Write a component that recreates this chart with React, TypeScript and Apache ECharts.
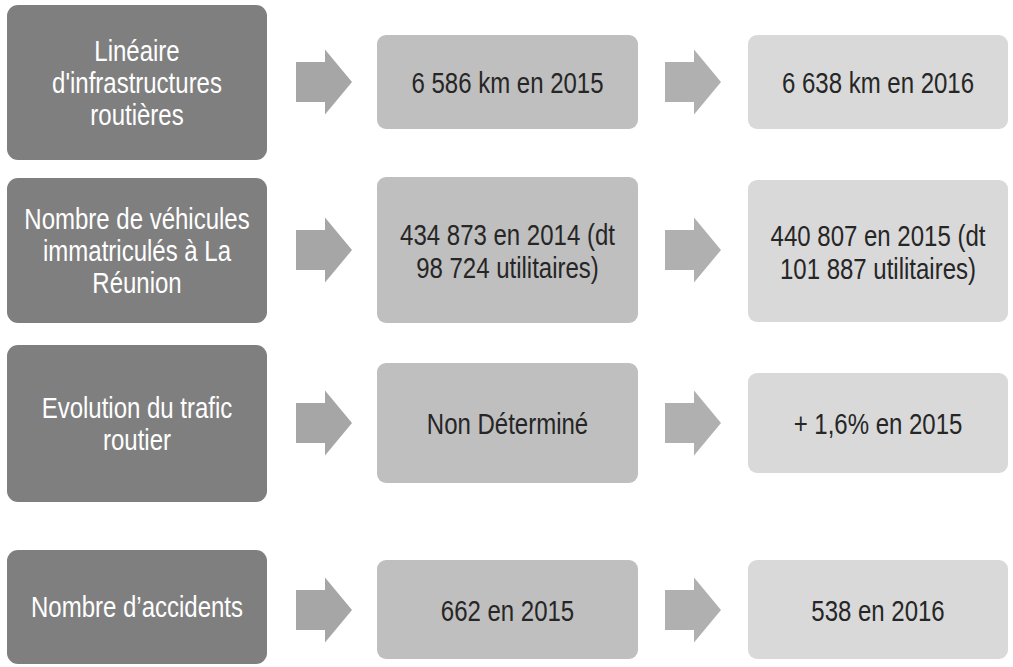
import React, { useEffect, useRef } from "react";
import * as echarts from "echarts";

// Data
const indicators: string[] = [
  "Linéaire\nd'infrastructures\nroutières",
  "Nombre de véhicules\nimmatriculés à La\nRéunion",
  "Evolution du trafic\nroutier",
  "Nombre d’accidents",
];
const previousValues: string[] = [
  "6 586 km en 2015",
  "434 873 en 2014 (dt\n98 724 utilitaires)",
  "Non Déterminé",
  "662 en 2015",
];
const latestValues: string[] = [
  "6 638 km en 2016",
  "440 807 en 2015 (dt\n101 887 utilitaires)",
  "+ 1,6% en 2015",
  "538 en 2016",
];

// Layout (positions / sizes)
const rowBoxes = [
  { dark: [5, 160], mid: [35, 129], right: [35, 129], cy: 82 },
  { dark: [178, 323], mid: [177, 323], right: [180, 322], cy: 250 },
  { dark: [345, 502], mid: [363, 483], right: [373, 473], cy: 423 },
  { dark: [550, 664], mid: [560, 659], right: [560, 659], cy: 610 },
];
const colX = { dark: [7, 267], mid: [377, 638], right: [748, 1008] };
const arrowX = [
  [296, 325, 352],
  [665, 694, 721],
];

const FONT = "Liberation Sans, Arial, sans-serif";

export default function App() {
  const ref = useRef<HTMLDivElement>(null);
  useEffect(() => {
    if (!ref.current) return;
    const chart = echarts.init(ref.current, undefined, { renderer: "svg" });
    const elements: any[] = [];
    const box = (x0: number, x1: number, y0: number, y1: number, fill: string, r: number) => ({
      type: "rect",
      shape: { x: x0, y: y0, width: x1 - x0, height: y1 - y0, r },
      style: { fill },
      silent: true,
    });
    const label = (text: string, cx: number, cy: number, fill: string) => ({
      type: "text",
      x: cx,
      y: cy,
      scaleY: 1.25,
      silent: true,
      style: {
        text,
        x: 0,
        y: 0,
        fill,
        fontFamily: FONT,
        fontSize: 24,
        lineHeight: 25.6,
        align: "center",
        verticalAlign: "middle",
        textAlign: "center",
        textVerticalAlign: "middle",
      },
    });
    const arrow = (xs: number[], cy: number, fill: string) => ({
      type: "polygon",
      silent: true,
      shape: {
        points: [
          [xs[0], cy - 20],
          [xs[1], cy - 20],
          [xs[1], cy - 32.5],
          [xs[2], cy],
          [xs[1], cy + 32.5],
          [xs[1], cy + 20],
          [xs[0], cy + 20],
        ],
      },
      style: { fill },
    });
    rowBoxes.forEach((row, i) => {
      elements.push(box(colX.dark[0], colX.dark[1], row.dark[0], row.dark[1], "#7f7f7f", 11));
      elements.push(
        label(indicators[i], (colX.dark[0] + colX.dark[1]) / 2, (row.dark[0] + row.dark[1]) / 2, "#ffffff")
      );
      elements.push(arrow(arrowX[0], row.cy, "#a6a6a6"));
      elements.push(box(colX.mid[0], colX.mid[1], row.mid[0], row.mid[1], "#bfbfbf", 9));
      elements.push(
        label(previousValues[i], (colX.mid[0] + colX.mid[1]) / 2, (row.mid[0] + row.mid[1]) / 2 + 1, "#262626")
      );
      elements.push(arrow(arrowX[1], row.cy, "#b0b0b0"));
      elements.push(box(colX.right[0], colX.right[1], row.right[0], row.right[1], "#d9d9d9", 9));
      elements.push(
        label(latestValues[i], (colX.right[0] + colX.right[1]) / 2, (row.right[0] + row.right[1]) / 2 + 1, "#262626")
      );
    });
    chart.setOption({
      animation: false,
      backgroundColor: "#ffffff",
      graphic: { elements },
    });
    return () => chart.dispose();
  }, []);
  return (
    <div
      ref={ref}
      style={{ position: "fixed", left: 0, top: 0, width: 1013, height: 667, background: "#fff" }}
    />
  );
}
